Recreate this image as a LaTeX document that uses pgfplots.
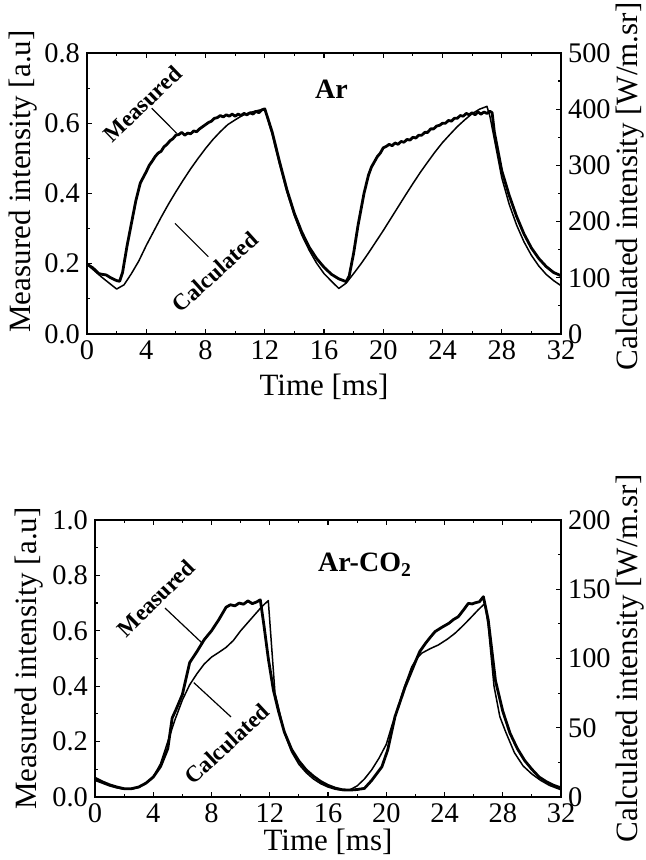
\documentclass[border=0pt]{standalone}
\usepackage{fontspec}
\setmainfont{Liberation Serif}
\usepackage{pgfplots}
\pgfplotsset{compat=1.18}

\pgfplotstableread{
t v
0 0.199
0.4 0.188
0.8 0.172
1.0 0.170
1.3 0.168
1.6 0.160
2.0 0.152
2.2 0.150
2.4 0.175
2.7 0.250
3.0 0.315
3.3 0.380
3.6 0.430
4.0 0.462
4.2 0.480
4.4 0.492
4.6 0.505
4.8 0.515
5.0 0.520
5.2 0.533
5.4 0.540
5.6 0.550
5.8 0.556
6.0 0.566
6.2 0.568
6.4 0.574
6.6 0.566
6.8 0.572
7.0 0.570
7.2 0.578
7.4 0.576
7.6 0.584
7.8 0.590
8.0 0.596
8.2 0.602
8.4 0.606
8.6 0.614
8.8 0.616
9.0 0.622
9.2 0.618
9.4 0.624
9.6 0.620
9.8 0.626
10.0 0.620
10.2 0.626
10.4 0.622
10.6 0.628
10.8 0.624
11.0 0.630
11.2 0.626
11.4 0.634
11.6 0.630
11.8 0.638
12.0 0.641
12.2 0.615
12.5 0.575
13.0 0.490
13.5 0.410
14.0 0.343
14.5 0.290
15.0 0.247
15.5 0.215
16.0 0.190
16.5 0.170
17.0 0.157
17.5 0.149
17.7 0.165
18.0 0.230
18.3 0.310
18.7 0.400
19.0 0.452
19.2 0.475
19.4 0.490
19.6 0.505
19.8 0.515
20.0 0.530
20.2 0.534
20.4 0.540
20.6 0.536
20.8 0.544
21.0 0.540
21.2 0.548
21.4 0.546
21.6 0.554
21.8 0.552
22.0 0.560
22.2 0.558
22.4 0.566
22.6 0.566
22.8 0.574
23.0 0.574
23.2 0.584
23.4 0.584
23.6 0.592
23.8 0.594
24.0 0.600
24.2 0.600
24.4 0.608
24.6 0.606
24.8 0.614
25.0 0.614
25.2 0.622
25.4 0.620
25.6 0.628
25.8 0.624
26.0 0.630
26.2 0.624
26.4 0.632
26.6 0.626
26.8 0.632
27.0 0.628
27.2 0.634
27.35 0.630
27.5 0.575
28.0 0.465
28.5 0.395
29.0 0.335
29.5 0.285
30.0 0.245
30.5 0.215
31.0 0.192
31.5 0.175
32.0 0.166
}\arMeas

\pgfplotstableread{
t w
0 124
1.0 101
2.0 80
2.5 87.5
3.0 107.5
3.5 130
4.0 157.5
4.5 182.5
5.0 207.5
5.5 231
6.0 253
6.5 274
7.0 294
7.5 312.5
8.0 330
8.5 346
9.0 360
9.5 372.5
10.0 381
10.5 389
11.0 394
11.5 397.5
12.0 400.6
12.5 356
13.0 302.5
13.5 253
14.0 210.6
14.5 176
15.0 149
15.5 126
16.0 107.5
16.5 94
17.0 81
17.5 90.6
18.0 107.5
18.5 125
19.0 144
19.5 164
20.0 184
20.5 205
21.0 226
21.5 247
22.0 267.5
22.5 287.5
23.0 306
23.5 324
24.0 340.6
24.5 355
25.0 369
25.5 381
26.0 392
26.5 400
27.0 405
27.2 387.5
27.5 347
28.0 278
28.5 231
29.0 194
29.5 164
30.0 140
30.5 121
31.0 106
31.5 95
32.0 86
}\arCalc

\pgfplotstableread{
t v
0 0.068
0.5 0.055
1.0 0.044
1.5 0.036
2.0 0.030
2.5 0.030
3.0 0.036
3.5 0.050
4.0 0.072
4.5 0.110
5.0 0.175
5.15 0.230
5.3 0.285
5.6 0.320
6.0 0.370
6.5 0.485
7.0 0.525
7.5 0.568
8.0 0.600
8.5 0.640
9.0 0.685
9.3 0.694
9.6 0.690
9.9 0.700
10.2 0.696
10.5 0.708
10.8 0.698
11.1 0.704
11.35 0.712
11.6 0.620
11.9 0.500
12.25 0.386
12.6 0.310
13.0 0.235
13.5 0.172
14.0 0.130
14.5 0.098
15.0 0.075
15.5 0.056
16.0 0.042
16.5 0.032
17.0 0.026
17.5 0.025
18.0 0.027
18.5 0.031
19.0 0.060
19.7 0.109
20.1 0.170
20.6 0.290
21.3 0.398
22.0 0.488
22.3 0.525
22.7 0.555
23.0 0.575
23.35 0.597
23.8 0.612
24.3 0.627
24.6 0.640
24.95 0.651
25.3 0.675
25.64 0.699
25.9 0.697
26.1 0.701
26.4 0.705
26.67 0.723
27.0 0.640
27.5 0.420
28.0 0.310
28.5 0.230
29.0 0.175
29.5 0.132
30.0 0.100
30.5 0.072
31.0 0.055
31.5 0.042
32.0 0.033
}\coMeas

\pgfplotstableread{
t w
0 12.0
0.5 10.0
1.0 8.0
1.5 6.6
2.0 5.6
2.5 5.6
3.0 7.0
3.5 10.0
4.0 14.4
4.5 24.0
5.0 40.0
5.5 56.0
6.0 70.0
6.5 81.0
7.0 89.0
7.5 96.0
8.0 101.0
8.5 104.4
9.0 108.0
9.5 113.0
10.0 120.0
10.5 126.0
11.0 132.0
11.45 137.4
11.9 141.8
12.36 75.0
12.7 60.0
13.0 46.4
13.5 32.6
14.0 23.6
14.5 17.6
15.0 13.0
15.5 9.6
16.0 7.2
16.5 5.6
17.0 4.8
17.5 5.2
18.0 8.0
18.5 13.0
19.0 19.6
19.5 28.0
20.0 38.0
20.4 52.0
20.8 64.0
21.2 78.0
21.75 94.0
22.1 100.0
22.43 103.8
23.0 107.0
23.58 109.8
24.2 114.0
24.72 118.2
25.3 124.0
25.87 130.2
26.3 135.0
26.78 139.8
27.0 124.0
27.4 80.0
27.8 58.0
28.2 47.0
28.8 32.0
29.4 22.4
30.0 16.6
30.6 12.0
31.2 8.4
32.0 5.2
}\coCalc

\pgfplotsset{
  every axis/.append style={
    scale only axis,
    anchor=south west,
    xmin=0, xmax=32,
    axis line style={line width=0.9pt},
    major tick length=2.6pt, minor tick length=1.5pt,
    tick style={line width=0.6pt, black},
    tick label style={font=\fontsize{14.2}{16}\selectfont},
    label style={font=\fontsize{15.5}{18}\selectfont},
    /pgf/number format/assume math mode=true,
  },
}
\tikzset{
  meas/.style={black, line width=1.4pt, line join=round},
  calc/.style={black, line width=0.75pt, line join=round},
  note/.style={font=\bfseries\fontsize{11.5}{13}\selectfont},
}

\begin{document}
\begin{tikzpicture}
\path[use as bounding box] (0,0) rectangle (323pt,430pt);

% ---- Ar
\begin{axis}[
  at={(43.5pt,263pt)}, width=237pt, height=140.5pt,
  ymin=0, ymax=0.8,
  xtick={0,4,...,32}, minor x tick num=1,
  ytick={0,0.2,...,0.8}, minor y tick num=1,
  xtick pos=both, ytick pos=left,
  yticklabel style={/pgf/number format/.cd, fixed, fixed zerofill, precision=1},
  xlabel={Time [ms]}, ylabel={Measured intensity [a.u]},
  xlabel style={yshift=0pt}, ylabel style={yshift=-3pt, xshift=6pt},
  clip=false,
]
\addplot[meas] table[x=t, y=v] {\arMeas};
\node[note, rotate=44] at (axis cs:3.75,0.655) {Measured};
\draw[line width=0.6pt] (axis cs:4.37,0.643) -- (axis cs:6.06,0.571);
\node[note, rotate=42] at (axis cs:8.64,0.177) {Calculated};
\draw[line width=0.6pt] (axis cs:5.94,0.315) -- (axis cs:8.19,0.22);
\node[font=\bfseries\fontsize{14}{16}\selectfont] at (axis cs:16.5,0.697) {Ar};
\end{axis}
\begin{axis}[
  at={(43.5pt,263pt)}, width=237pt, height=140.5pt,
  ymin=0, ymax=500,
  axis x line=none, axis y line*=right,
  ytick={0,100,...,500}, minor y tick num=1,
  ylabel={Calculated intensity [W/m.sr]},
  ylabel style={yshift=4pt, xshift=3.5pt},
]
\addplot[calc] table[x=t, y=w] {\arCalc};
\end{axis}

% ---- Ar-CO2
\begin{axis}[
  at={(47.5pt,31.5pt)}, width=233pt, height=138.5pt,
  ymin=0, ymax=1.0,
  xtick={0,4,...,32}, minor x tick num=1,
  ytick={0,0.2,...,1.0}, minor y tick num=1,
  xtick pos=both, ytick pos=left,
  yticklabel style={/pgf/number format/.cd, fixed, fixed zerofill, precision=1},
  xlabel={Time [ms]}, ylabel={Measured intensity [a.u]},
  xlabel style={yshift=4pt}, ylabel style={yshift=-2pt},
  clip=false,
]
\addplot[meas] table[x=t, y=v] {\coMeas};
\node[note, rotate=45] at (axis cs:4.19,0.718) {Measured};
\draw[line width=0.6pt] (axis cs:4.81,0.682) -- (axis cs:7.35,0.556);
\node[note, rotate=43] at (axis cs:9.06,0.191) {Calculated};
\draw[line width=0.6pt] (axis cs:6.78,0.413) -- (axis cs:9.34,0.289);
\node[font=\bfseries\fontsize{14}{16}\selectfont] at (axis cs:18.54,0.838) {Ar-CO\textsubscript{2}};
\end{axis}
\begin{axis}[
  at={(47.5pt,31.5pt)}, width=233pt, height=138.5pt,
  ymin=0, ymax=200,
  axis x line=none, axis y line*=right,
  ytick={0,50,...,200}, minor y tick num=1,
  ylabel={Calculated intensity [W/m.sr]},
  ylabel style={yshift=4pt},
]
\addplot[calc] table[x=t, y=w] {\coCalc};
\end{axis}
\end{tikzpicture}
\end{document}
